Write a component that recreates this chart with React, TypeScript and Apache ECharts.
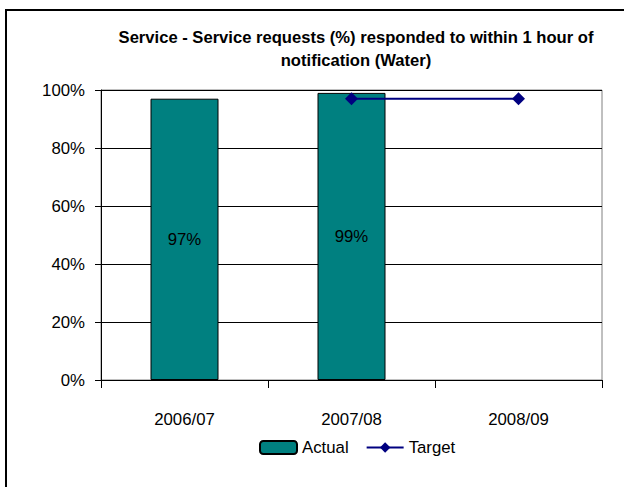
import React, { useEffect, useRef } from "react";
import * as echarts from "echarts";

const categories = ["2006/07", "2007/08", "2008/09"];
const actualValues: (number | null)[] = [97, 99, null];
const targetValues: (number | null)[] = [null, 97, 97];
const yTicks = [0, 20, 40, 60, 80, 100];
const titleLines = [
  "Service - Service requests (%) responded to within 1 hour of",
  "notification (Water)",
];

function pickFont(): { family: string; k: number } {
  try {
    const ctx = document.createElement("canvas").getContext("2d");
    if (ctx) {
      const s = "2006/07 Actual Target Service";
      ctx.font = "20px monospace";
      const base = ctx.measureText(s).width;
      ctx.font = "20px 'Liberation Sans Narrow', monospace";
      const w = ctx.measureText(s).width;
      if (Math.abs(w - base) > 0.5) return { family: "'Liberation Sans Narrow'", k: 1 };
    }
  } catch (e) {}
  return { family: "'Liberation Sans', Arial, sans-serif", k: 0.82 };
}

export default function App() {
  const ref = useRef<HTMLDivElement>(null);
  useEffect(() => {
    if (!ref.current) return;
    const { family, k } = pickFont();
    const fs = (n: number) => Math.round(n * k * 10) / 10;
    const chart = echarts.init(ref.current, undefined, { renderer: "svg" });
    chart.setOption({
      animation: false,
      backgroundColor: "#ffffff",
      textStyle: { fontFamily: family, color: "#000" },
      title: {
        text: titleLines.join("\n"),
        left: 351,
        top: 21,
        textAlign: "center",
        textStyle: {
          fontFamily: family,
          fontSize: fs(20.3),
          fontWeight: "bold",
          lineHeight: 23,
          color: "#000",
        },
      },
      graphic: [
        {
          type: "rect",
          shape: { x: 6, y: 10, width: 700, height: 600 },
          style: { fill: "none", stroke: "#000", lineWidth: 2 },
          silent: true,
          z: 100,
        },
      ],
      legend: {
        left: 254,
        top: 434,
        itemWidth: 37,
        itemHeight: 13,
        itemGap: 17,
        textStyle: { fontFamily: family, fontSize: fs(20.5), color: "#000" },
        data: ["Actual", "Target"],
      },
      grid: {
        left: 101,
        right: 22,
        top: 90,
        bottom: 107,
        show: true,
        borderColor: "#808080",
        borderWidth: 1,
      },
      xAxis: {
        type: "category",
        data: categories,
        boundaryGap: true,
        axisLine: { lineStyle: { color: "#000", width: 1 } },
        axisTick: { show: true, length: 8, alignWithLabel: false, lineStyle: { color: "#000" } },
        axisLabel: { margin: 31, fontFamily: family, fontSize: fs(20.5), color: "#000" },
      },
      yAxis: {
        type: "value",
        min: yTicks[0],
        max: yTicks[yTicks.length - 1],
        interval: 20,
        axisLine: { show: true, lineStyle: { color: "#000", width: 1 } },
        axisTick: { show: true, length: 6, lineStyle: { color: "#000" } },
        axisLabel: {
          margin: 16,
          fontFamily: family,
          fontSize: fs(20.5),
          color: "#000",
          formatter: "{value}%",
        },
        splitLine: { show: true, lineStyle: { color: "#000", width: 1 } },
      },
      series: [
        {
          name: "Actual",
          type: "bar",
          data: actualValues,
          barWidth: 68,
          itemStyle: { color: "#008080", borderColor: "#000", borderWidth: 1 },
          label: {
            show: true,
            position: "inside",
            formatter: "{c}%",
            fontFamily: family,
            fontSize: fs(20.5),
            color: "#000",
          },
        },
        {
          name: "Target",
          type: "line",
          data: targetValues,
          symbol: "diamond",
          symbolSize: 13,
          lineStyle: { color: "#000080", width: 2 },
          itemStyle: { color: "#000080" },
          z: 5,
        },
      ],
    });
    return () => chart.dispose();
  }, []);
  return (
    <div
      ref={ref}
      style={{ position: "fixed", left: 0, top: 0, width: 624, height: 487 }}
    />
  );
}
